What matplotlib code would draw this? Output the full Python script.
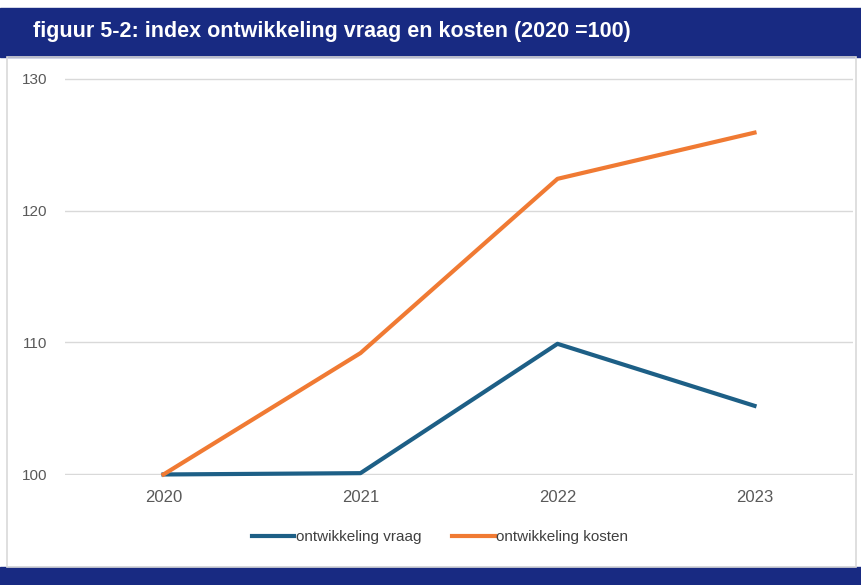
import matplotlib.pyplot as plt
from matplotlib.patches import Rectangle

jaren = ['2020', '2021', '2022', '2023']
vraag = [100, 100.1, 109.9, 105.2]
kosten = [100, 109.2, 122.4, 125.9]
yticks = [100, 110, 120, 130]

plt.rcParams['font.family'] = ['Liberation Sans', 'DejaVu Sans']

W, H = 861, 585
fig = plt.figure(figsize=(W / 100, H / 100), dpi=100)

# titelbalk en onderbalk
fig.patches.append(Rectangle((0, 1 - 57 / H), 1, 49 / H, transform=fig.transFigure,
                             color='#182a82', zorder=0))
fig.patches.append(Rectangle((0, 0), 1, 18 / H, transform=fig.transFigure,
                             color='#182a82', zorder=0))
# kader rond de grafiek
fig.patches.append(Rectangle((7 / W, 18 / H), 849 / W, (567 - 57) / H, transform=fig.transFigure,
                             fill=False, edgecolor='#d9d9d9', lw=1.2, zorder=0))
fig.text(33 / W, 1 - 32 / H, 'figuur 5-2: index ontwikkeling vraag en kosten (2020 =100)',
         color='white', fontsize=15.5, fontweight='bold', va='center', ha='left')

ax = fig.add_axes([65 / W, 1 - 475 / H, (853 - 65) / W, (475 - 78) / H])
x = range(len(jaren))
ax.plot(x, vraag, color='#1d5f86', lw=3, label='ontwikkeling vraag', clip_on=False, zorder=3)
ax.plot(x, kosten, color='#f07a33', lw=3, label='ontwikkeling kosten', clip_on=False, zorder=3)

ax.set_xlim(-0.5, 3.5)
ax.set_ylim(99.96, 130.04)
ax.set_yticks(yticks)
ax.set_xticks(list(x))
ax.set_xticklabels(jaren)
ax.grid(axis='y', color='#d9d9d9', lw=1)
ax.set_axisbelow(True)
for s in ax.spines.values():
    s.set_visible(False)
ax.tick_params(length=0, labelsize=11, colors='#595959')
ax.tick_params(axis='y', pad=13)
ax.tick_params(axis='x', pad=11, labelsize=12)

leg = ax.legend(loc='center', bbox_to_anchor=(440 / W, 1 - 537 / H), bbox_transform=fig.transFigure,
                ncol=2, frameon=False, fontsize=11, handlelength=2.8, handletextpad=0.1,
                columnspacing=2.0)
for t in leg.get_texts():
    t.set_color('#404040')

fig.savefig('out.png', dpi=100)
